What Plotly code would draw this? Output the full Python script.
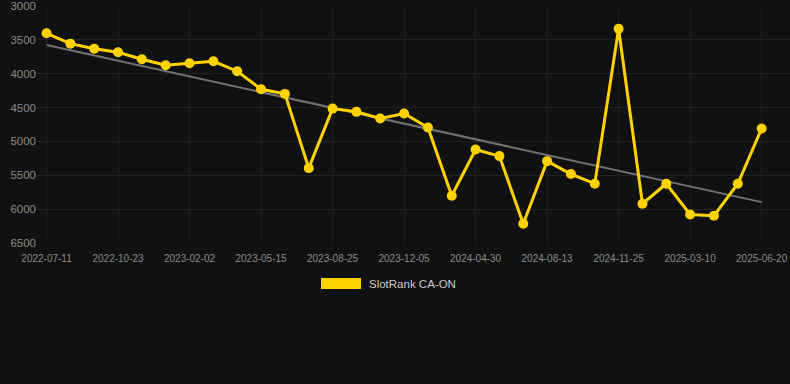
import plotly.graph_objects as go
import numpy as np

dates = ["2022-07-11", "2022-08-15", "2022-09-19", "2022-10-23", "2022-11-27", "2022-12-30",
         "2023-02-02", "2023-03-09", "2023-04-11", "2023-05-15", "2023-06-19", "2023-07-22",
         "2023-08-25", "2023-09-29", "2023-11-01", "2023-12-05", "2024-01-23", "2024-03-12",
         "2024-04-30", "2024-06-04", "2024-07-09", "2024-08-13", "2024-09-17", "2024-10-21",
         "2024-11-25", "2024-12-30", "2025-02-03", "2025-03-10", "2025-04-14", "2025-05-17",
         "2025-06-20"]
ranks = [3403, 3556, 3630, 3683, 3786, 3875, 3845, 3816, 3963, 4229, 4298, 5394,
         4515, 4563, 4662, 4588, 4795, 5802, 5119, 5217, 6215, 5291, 5482, 5625,
         3335, 5920, 5625, 6078, 6097, 5625, 4810]
tick_labels = dates[::3]
y_ticks = [3000, 3500, 4000, 4500, 5000, 5500, 6000, 6500]
series_name = "SlotRank CA-ON"

YELLOW = "#FFD200"
idx = np.arange(len(ranks))
slope, intercept = np.polyfit(idx, ranks, 1)
trend = slope * idx + intercept

fig = go.Figure()
fig.add_trace(go.Scatter(x=dates, y=trend, mode="lines",
                         line=dict(color="#727272", width=2), showlegend=False, hoverinfo="skip"))
fig.add_trace(go.Scatter(x=dates, y=ranks, mode="lines+markers", name=series_name,
                         line=dict(color=YELLOW, width=3),
                         marker=dict(color=YELLOW, size=10), showlegend=False))

font_family = "Liberation Sans, Arial, sans-serif"
fig.update_layout(
    width=790, height=384,
    paper_bgcolor="#111111", plot_bgcolor="#111111",
    margin=dict(l=37, r=0, t=6, b=141),
    font=dict(family=font_family, color="#8a8a8a"),
    xaxis=dict(type="category", categoryorder="array", categoryarray=dates,
               range=[-0.4, 31.19], tickmode="array", tickvals=tick_labels, ticktext=tick_labels,
               showgrid=True, gridcolor="#1f1f1f", gridwidth=1, zeroline=False, showline=False,
               ticklabelstandoff=8,
               tickfont=dict(size=10, color="#8a8a8a")),
    yaxis=dict(range=[6500, 3000], tickmode="array", tickvals=y_ticks,
               showgrid=True, gridcolor="#222222", gridwidth=1, zeroline=False, showline=False,
               tickfont=dict(size=11.5, color="#8a8a8a")),
    showlegend=False,
)
fig.add_shape(type="rect", xref="paper", yref="paper",
              x0=(321 - 37) / 753, x1=(361 - 37) / 753,
              y0=(384 - 141 - 289) / 237, y1=(384 - 141 - 278) / 237,
              fillcolor=YELLOW, line=dict(width=0))
fig.add_annotation(text=series_name, xref="paper", yref="paper",
                   x=(367 - 37) / 753, y=(384 - 141 - 283.5) / 237,
                   xanchor="left", yanchor="middle", showarrow=False,
                   font=dict(size=11.5, color="#cccccc", family=font_family))
fig.write_html("out.html", config={"displayModeBar": False},
               post_script="document.body.style.margin='0';document.body.style.background='#111111';")
